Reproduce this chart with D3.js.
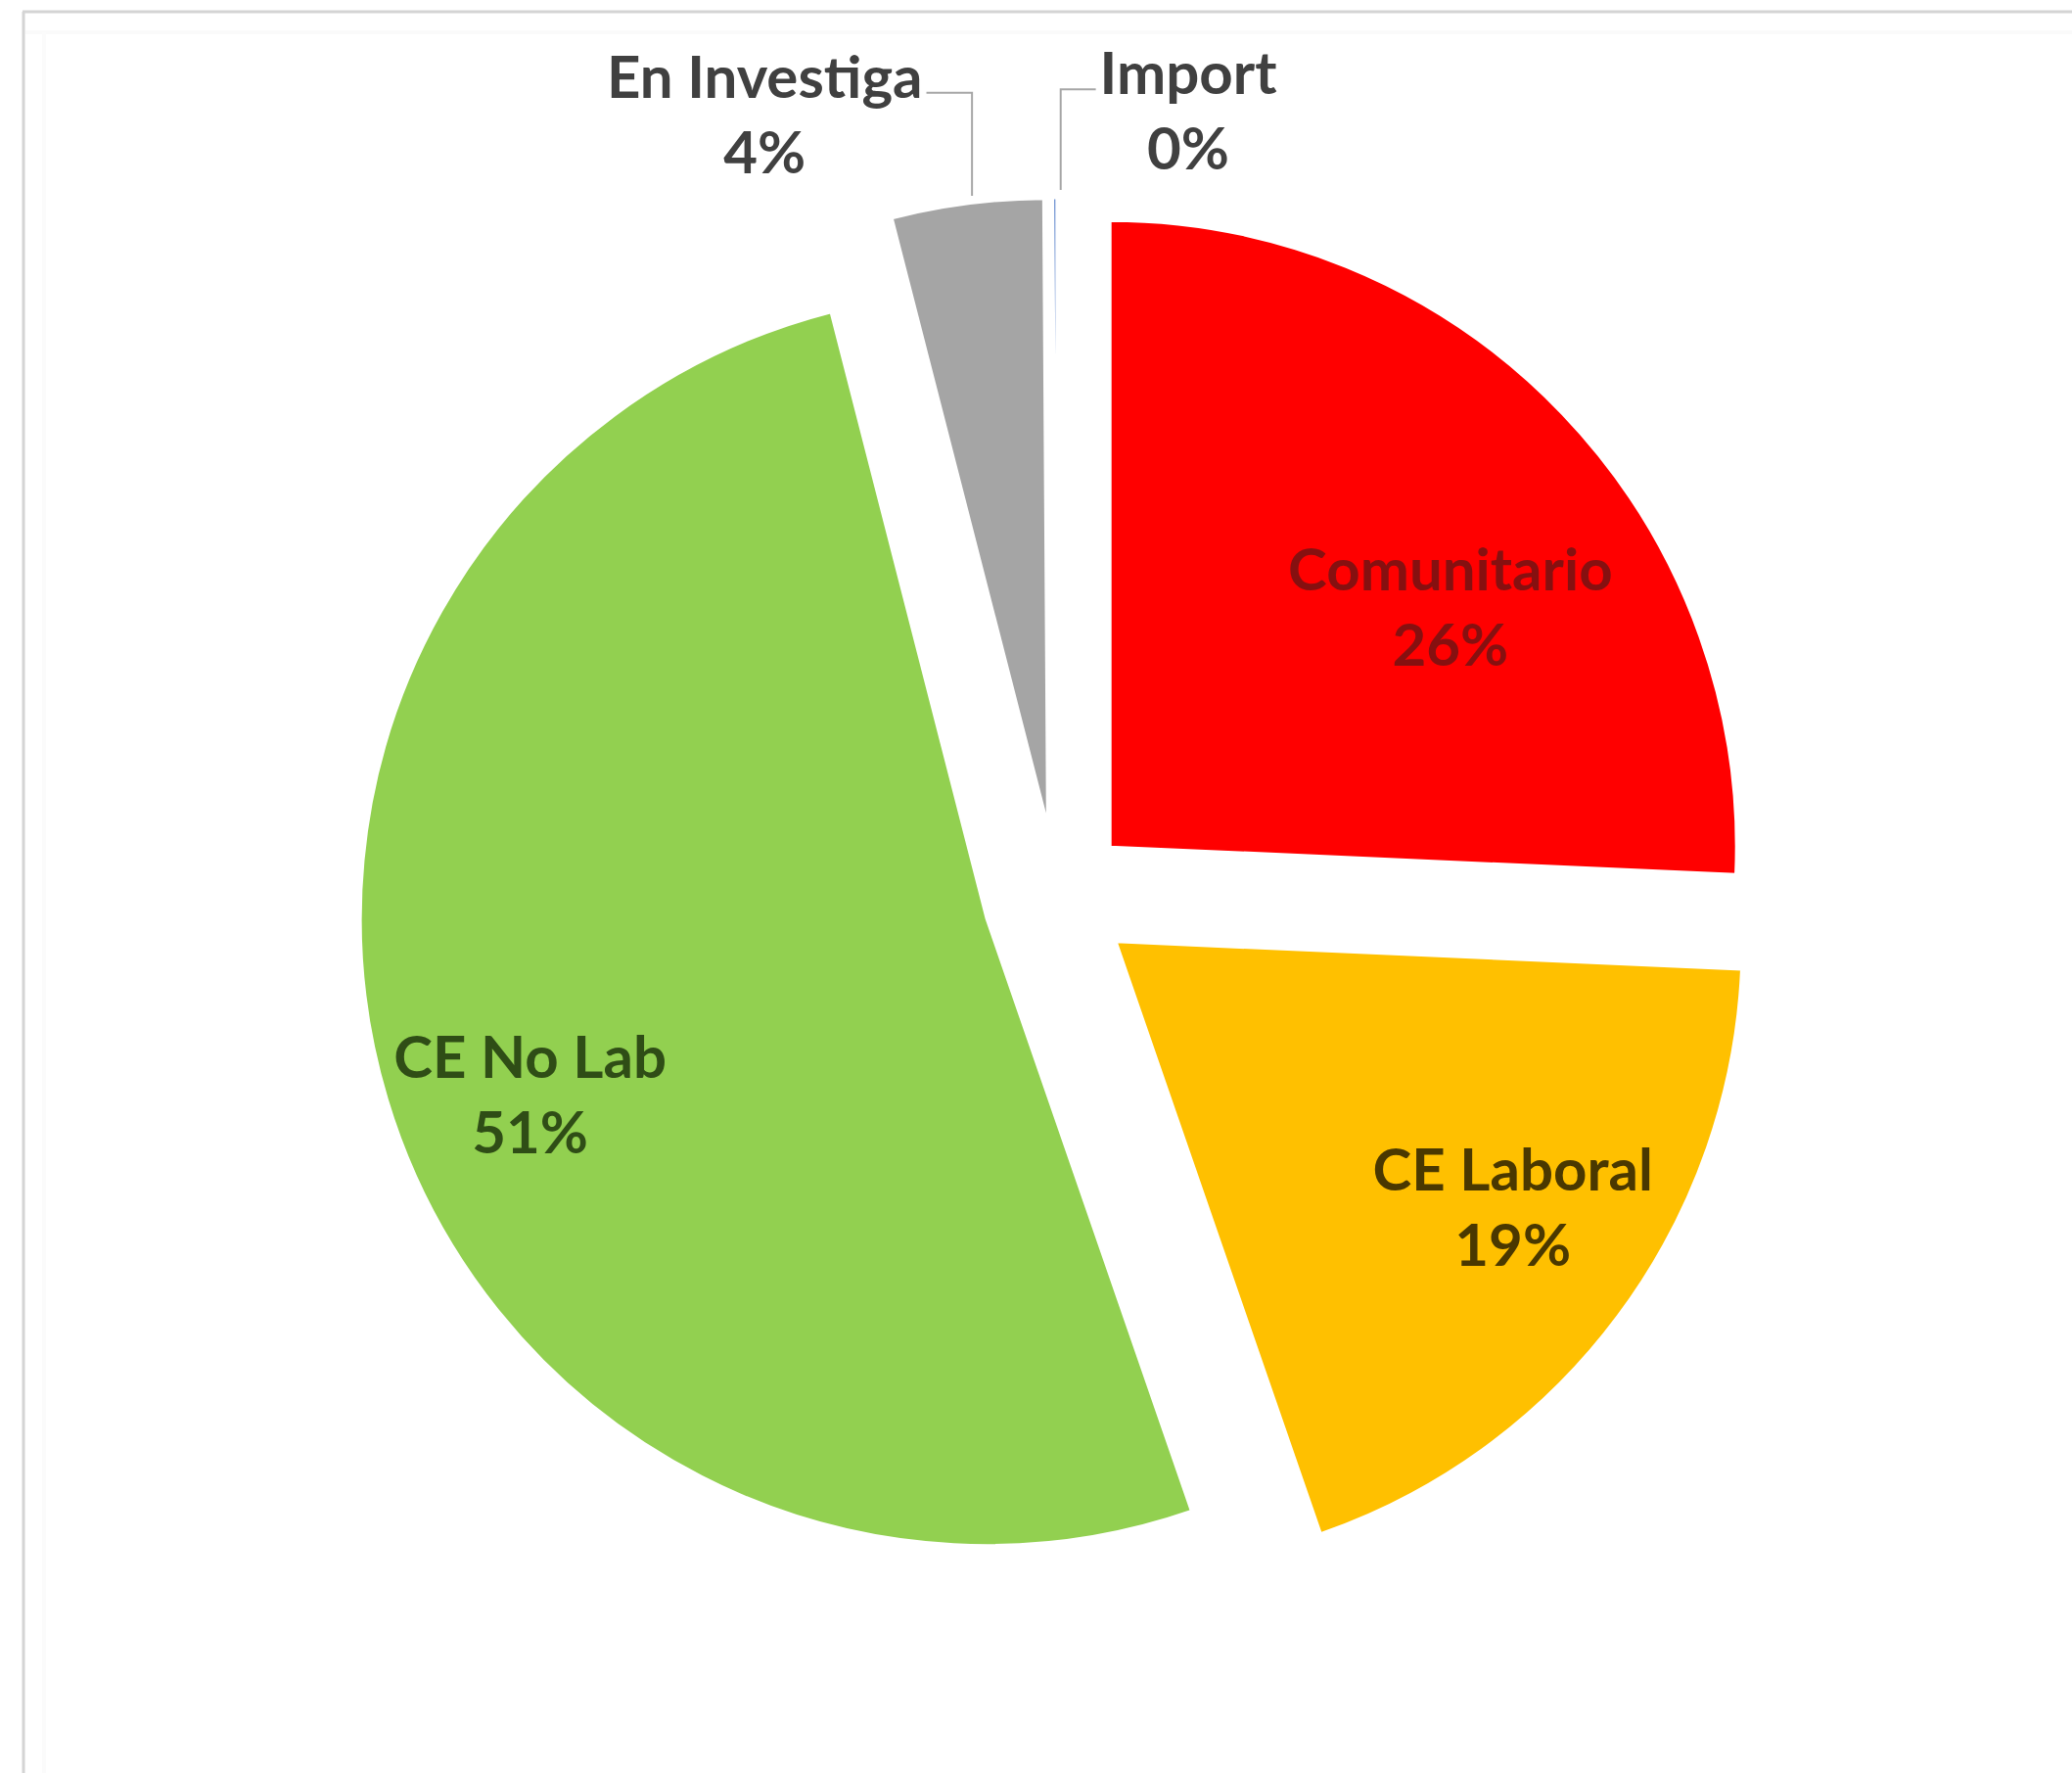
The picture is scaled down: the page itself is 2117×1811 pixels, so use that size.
<!DOCTYPE html>
<html>
<head>
<meta charset="utf-8">
<script src="https://cdn.jsdelivr.net/npm/d3@7"></script>
<style>
  html, body { margin: 0; padding: 0; background: #ffffff; }
  svg { display: block; }
  text { font-family: Lato, "Open Sans", sans-serif; font-weight: 700; }
</style>
</head>
<body>
<svg id="chart" width="2117" height="1811"></svg>
<script>
// ---- data ----
const categories = ["Comunitario", "CE Laboral", "CE No Lab", "En Investiga", "Import"];
const values = [25.7, 19.0, 51.3, 3.9, 0.1];
const pctLabels = ["26%", "19%", "51%", "4%", "0%"];
const colors = ["#ff0000", "#ffc000", "#92d050", "#a5a5a5", "#4472c4"];
const labelColors = ["#861010", "#4a3800", "#2f4d16", "#404040", "#404040"];
// label placement: [radius as fraction of pie radius, angle offset in degrees from slice mid]
const labelRadius = [0.666, 0.761, 0.78, 1.223, 1.16];
const labelAngleShift = [8.4, -3.1, -4.1, -14.3, 10.6];
const outside = [false, false, false, true, true];

// ---- layout ----
const W = 2117, H = 1811;
const cx = 1080, cy = 917, R = 640, explode = 75;
const fontSize = 60, lineGap = 77;

const svg = d3.select("#chart");

// frame (top + left border)
svg.append("rect").attr("x", 0).attr("y", 0).attr("width", W).attr("height", H).attr("fill", "#ffffff");
svg.append("line").attr("x1", 23).attr("y1", 12).attr("x2", W).attr("y2", 12)
  .attr("stroke", "#d4d4d4").attr("stroke-width", 3);
svg.append("line").attr("x1", 24).attr("y1", 12).attr("x2", 24).attr("y2", H)
  .attr("stroke", "#d4d4d4").attr("stroke-width", 3);
svg.append("line").attr("x1", 26).attr("y1", 33).attr("x2", W).attr("y2", 33)
  .attr("stroke", "#fafafa").attr("stroke-width", 4);
svg.append("line").attr("x1", 45).attr("y1", 33).attr("x2", 45).attr("y2", H)
  .attr("stroke", "#fbfbfb").attr("stroke-width", 4);

const data = categories.map((c, i) => ({
  name: c, value: values[i], pct: pctLabels[i], color: colors[i],
  labelColor: labelColors[i], lr: labelRadius[i], la: labelAngleShift[i], outside: outside[i]
}));

const pie = d3.pie().sort(null).value(d => d.value).startAngle(0).endAngle(2 * Math.PI);
const arcs = pie(data);
const arc = d3.arc().innerRadius(0).outerRadius(R);

const g = svg.append("g").attr("transform", `translate(${cx},${cy})`);

arcs.forEach(a => {
  const mid = (a.startAngle + a.endAngle) / 2;
  a.ox = explode * Math.sin(mid);
  a.oy = -explode * Math.cos(mid);
  a.mid = mid;
});

g.selectAll("path.slice").data(arcs).enter().append("path")
  .attr("class", "slice")
  .attr("transform", d => `translate(${d.ox},${d.oy})`)
  .attr("d", arc)
  .attr("fill", d => d.data.color)
  .attr("stroke", "#ffffff").attr("stroke-width", 3).attr("stroke-linejoin", "round");

// labels
arcs.forEach(a => {
  const ang = a.mid + a.data.la * Math.PI / 180;
  const lx = a.ox + a.data.lr * R * Math.sin(ang);
  const ly = a.oy - a.data.lr * R * Math.cos(ang);
  const lg = g.append("g").attr("transform", `translate(${lx},${ly})`);
  const t1 = lg.append("text").attr("text-anchor", "middle").attr("dominant-baseline", "central")
    .attr("y", -lineGap / 2).attr("font-size", fontSize).attr("fill", a.data.labelColor)
    .text(a.data.name);
  lg.append("text").attr("text-anchor", "middle").attr("dominant-baseline", "central")
    .attr("y", lineGap / 2).attr("font-size", fontSize).attr("fill", a.data.labelColor)
    .text(a.data.pct);

  if (a.data.outside) {
    const w = t1.node().getComputedTextLength();
    // leader line: from slice outer arc (mid angle) up to the label's first line, then toward the text
    const side = a.data.la > 0 ? 1 : -1;
    const px = a.ox + (R + 8) * Math.sin(a.mid) + 6;
    const py = a.oy - (R + 8) * Math.cos(a.mid);
    const yLine = ly - lineGap / 2 + 18;
    const ex = lx - side * (w / 2 + 4);
    g.append("path")
      .attr("d", `M${px},${py} L${px},${yLine} L${ex},${yLine}`)
      .attr("fill", "none").attr("stroke", "#a6a6a6").attr("stroke-width", 2);
  }
});
</script>
</body>
</html>
